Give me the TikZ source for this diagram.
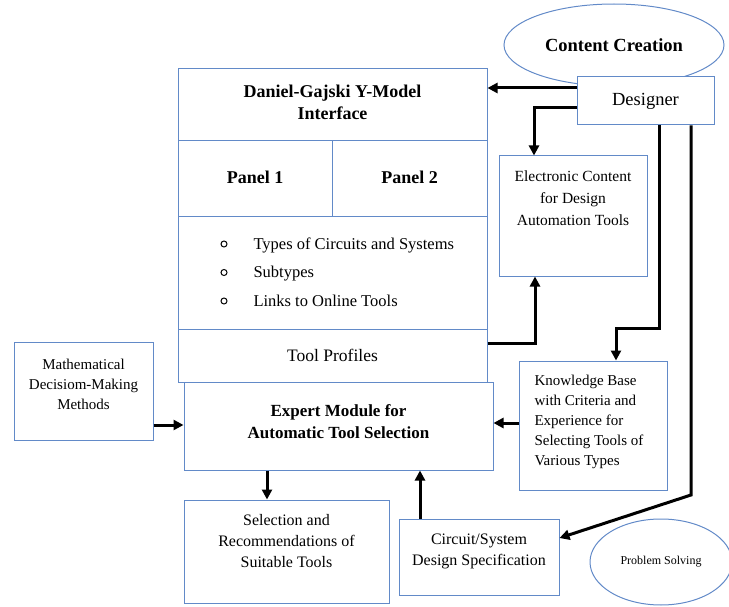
\documentclass[tikz,border=0pt]{standalone}
\usepackage{fontspec}
\setmainfont{Liberation Serif}
\usetikzlibrary{fit,arrows.meta,shapes.geometric}
\definecolor{bc}{RGB}{98,138,200}
\begin{document}
\begin{tikzpicture}[x=1pt,y=-1pt,
  box/.style={draw=bc,line width=1pt,inner sep=0pt,fill=white},
  ell/.style={ellipse,draw=bc,line width=1pt,inner sep=0pt},
  arr/.style={line width=3pt,-{Triangle[length=10pt,width=10pt]}},
  tb/.style={font=\fontsize{18}{22}\selectfont\bfseries,align=center},
  tn/.style={font=\fontsize{16}{21}\selectfont,align=center},
  ts/.style={font=\fontsize{15}{20}\selectfont,align=center},
  bul/.style={line width=1pt}
]
\useasboundingbox (0,0) rectangle (729,607);

% ellipses
\node[ell,minimum width=220,minimum height=82,font=\fontsize{18.5}{22}\selectfont\bfseries] (cc) at (614,45) {Content Creation};
\node[ell,minimum width=142,minimum height=86,font=\fontsize{12}{14}\selectfont] (ps) at (661,562) {Problem Solving};

% boxes
\node[box,fit={(577,77)(714,125)},label={[font=\fontsize{18.5}{22}\selectfont]center:{Designer}}] (des) {};
\node[box,fit={(178,69)(487,141)},label={[tb,yshift=3pt]center:{Daniel-Gajski Y-Model\\Interface}}] (dg) {};
\node[box,fit={(178,141)(332,217)},label={[tb,yshift=2pt]center:{Panel 1}}] (p1) {};
\node[box,fit={(332,141)(487,217)},label={[tb,yshift=2pt]center:{Panel 2}}] (p2) {};
\node[box,fit={(178,217)(487,329)}] (lb) {};
\node[font=\fontsize{16.5}{28.5}\selectfont,align=left,anchor=west] (lt) at (250,272) {Types of Circuits and Systems\\Subtypes\\Links to Online Tools};
\draw[bul] (224,244) circle[radius=3pt];
\draw[bul] (224,272.5) circle[radius=3pt];
\draw[bul] (224,301) circle[radius=3pt];
\node[box,fit={(178,329)(487,382)},label={[font=\fontsize{17.5}{21}\selectfont]center:{Tool Profiles}}] (tp) {};
\node[box,fit={(184,382)(493,470)},label={[font=\fontsize{17}{22}\selectfont\bfseries,align=center,yshift=4pt]center:{Expert Module for\\Automatic Tool Selection}}] (em) {};
\node[box,fit={(14,342)(153,440)},label={[ts,yshift=7pt]center:{Mathematical\\Decisiom-Making\\Methods}}] (mm) {};
\node[box,fit={(499,156)(647,276)},label={[font=\fontsize{15.5}{22}\selectfont,align=center,yshift=18pt]center:{Electronic Content\\for Design\\Automation Tools}}] (ec) {};
\node[box,fit={(519,361)(667,490)},label={[ts,align=left,yshift=4pt,xshift=-4pt]center:{Knowledge Base\\with Criteria and\\Experience for\\Selecting Tools of\\Various Types}}] (kb) {};
\node[box,fit={(184,500)(389,603)},label={[tn,yshift=10pt]center:{Selection and\\Recommendations of\\Suitable Tools}}] (sel) {};
\node[box,fit={(399,519)(559,595)},label={[tn,yshift=6pt]center:{Circuit/System\\Design Specification}}] (cs) {};

% connectors
\draw[arr] (des.west |- 0,88) -- (dg.east |- 0,88);
\draw[arr] (des.west |- 0,108) -| (ec.north -| 534,0);
\draw[arr] (tp.east |- 0,343) -| (ec.south -| 535,0);
\draw[arr] (des.south -| 659,0) -- (659,328) -- (616,328) -- (kb.north -| 616,0);
\draw[arr] (des.south -| 691,0) -- (691,495) -- (cs.east |- 0,538);
\draw[arr] (mm.east |- 0,425) -- (em.west |- 0,425);
\draw[arr] (kb.west |- 0,423) -- (em.east |- 0,423);
\draw[arr] (em.south -| 267,0) -- (sel.north -| 267,0);
\draw[arr] (cs.north -| 420,0) -- (em.south -| 420,0);
\end{tikzpicture}
\end{document}
